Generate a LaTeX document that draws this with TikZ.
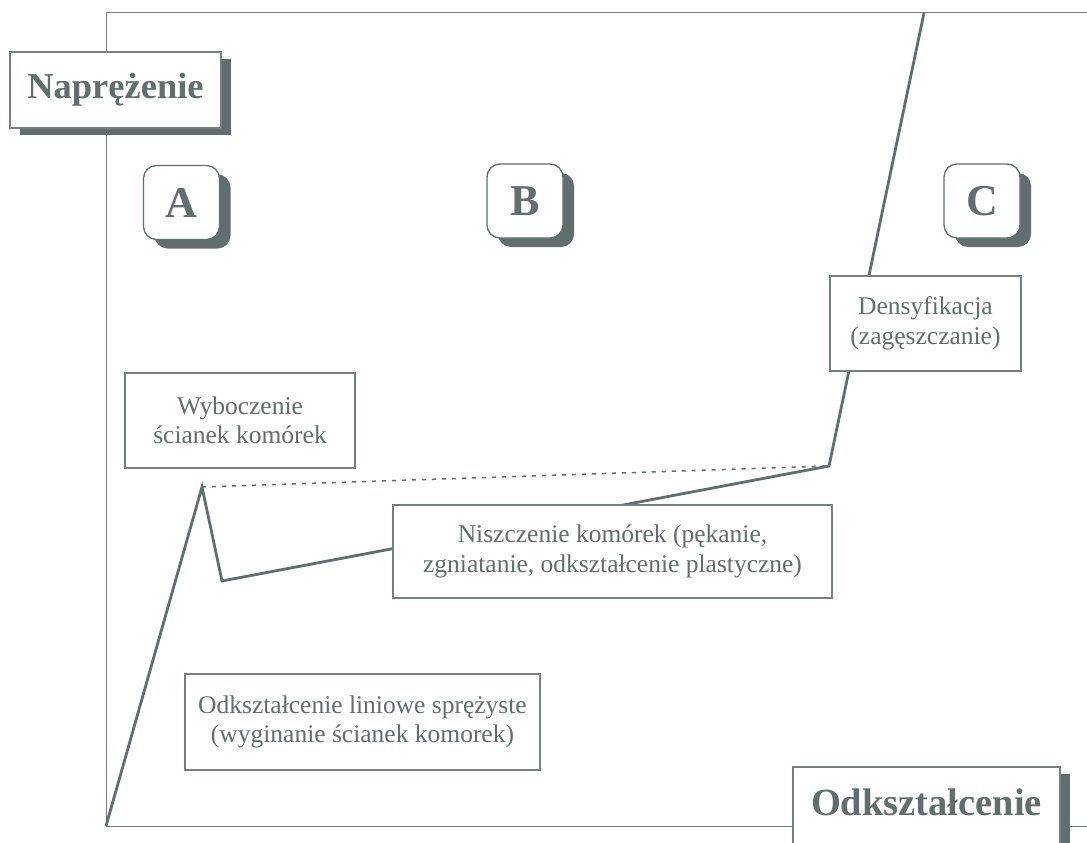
\documentclass[tikz,border=0pt]{standalone}
\usepackage{fontspec}
\setmainfont{Liberation Serif}
\usetikzlibrary{shadows}
\definecolor{slate}{RGB}{96,110,110}
\definecolor{rim}{RGB}{118,128,128}
\tikzset{every picture/.style={line width=0.75pt}}
\tikzset{
  infobox/.style={draw=rim, line width=1.3pt, fill=white, text=slate, align=center,
    inner sep=0pt, font=\fontsize{25.5}{29.5}\selectfont},
  axisbox/.style={draw=rim, line width=1.3pt, fill=white, text=slate, inner sep=0pt,
    font=\fontsize{37.5}{40}\selectfont\bfseries,
    drop shadow={shadow xshift=10pt, shadow yshift=-7pt, fill=slate, opacity=1}},
  zonebox/.style={draw=slate, line width=1.3pt, fill=white, text=slate, rounded corners=13pt,
    minimum width=76pt, minimum height=74pt, inner sep=0pt,
    font=\fontsize{44}{50}\selectfont\bfseries,
    drop shadow={shadow xshift=11pt, shadow yshift=-9pt, fill=slate, opacity=1}}
}
\begin{document}
\begin{tikzpicture}[x=1pt,y=1pt,yscale=-1]
\useasboundingbox (0,0) rectangle (1087,843);

%Shape: Axis frame
\draw [color=rim, line width=1pt] (1087,13) -- (106,13) -- (106,826) -- (1087,826);

%Curve points
\coordinate (origin) at (106,826);
\coordinate (peak) at (202,487);
\coordinate (trough) at (222,581);
\coordinate (knee) at (829,466);
\coordinate (topend) at (924,13);

%Straight Lines: stress-strain curve
\draw [color=slate, line width=2.8pt, line join=miter] (origin) -- (peak) -- (trough) -- (knee) -- (topend);
%Dotted Lines
\draw [color=slate, line width=1.5pt, dash pattern=on 4pt off 6pt] (peak) -- (knee);

% Text Node
\node [axisbox, minimum width=211pt, minimum height=76pt, font=\fontsize{36.5}{40}\selectfont\bfseries] (stress) at (115.5,90) {Naprężenie};
% Text Node
\node [axisbox, anchor=base, minimum width=267pt, text height=48pt, text depth=60pt, font=\fontsize{38.5}{40}\selectfont\bfseries] (strain) at (926.5,815) {Odkształcenie};

% Zone Nodes
\node [zonebox] (zoneA) at (181.5,202.5) {A};
\node [zonebox] (zoneB) at (525,201) {B};
\node [zonebox] (zoneC) at (982,201) {C};

% Text Node
\node [infobox, minimum width=230pt, minimum height=95pt] (buckling) at (240,420.5) {Wyboczenie\\ścianek komórek};
% Text Node
\node [infobox, minimum width=439pt, minimum height=93pt] (crushing) at (612.5,551.5) {Niszczenie komórek (pękanie,\\zgniatanie, odkształcenie plastyczne)};
% Text Node
\node [infobox, minimum width=191pt, minimum height=95pt] (densify) at (925.5,323.5) {Densyfikacja\\(zagęszczanie)};
% Text Node
\node [infobox, minimum width=355pt, minimum height=96pt] (elastic) at (362.5,722) {Odkształcenie liniowe sprężyste\\(wyginanie ścianek komorek)};

\end{tikzpicture}
\end{document}
